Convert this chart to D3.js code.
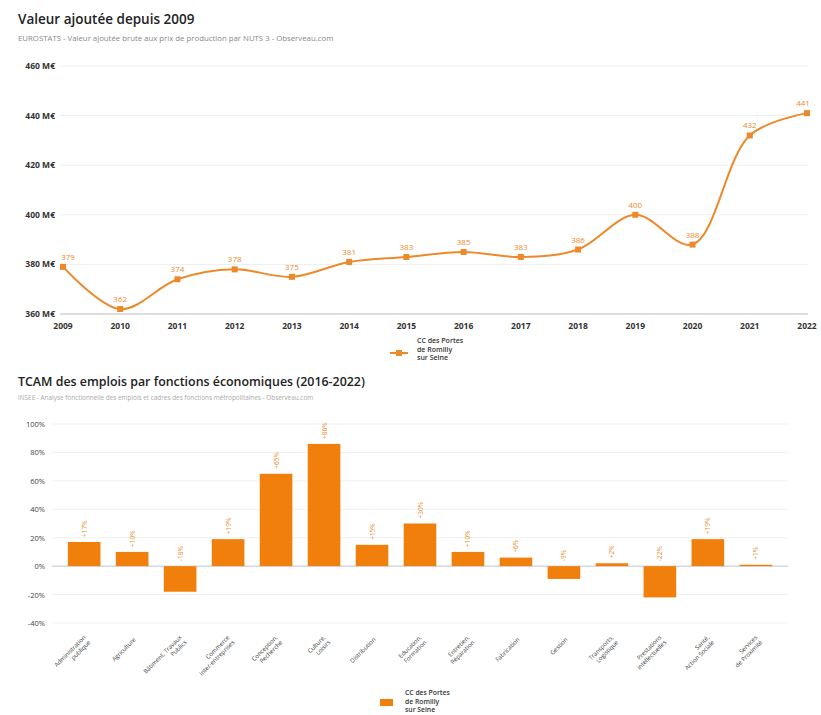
<!DOCTYPE html>
<html>
<head>
<meta charset="utf-8">
<script src="https://cdn.jsdelivr.net/npm/d3@7"></script>
<style>
body { margin: 0; background: #fff; font-family: "Open Sans", sans-serif; }
</style>
</head>
<body>
<div id="chart"></div>
<script>
// valeur ajoutee (M€)
var years = [2009, 2010, 2011, 2012, 2013, 2014, 2015, 2016, 2017, 2018, 2019, 2020, 2021, 2022];
var valeurs = [379, 362, 374, 378, 375, 381, 383, 385, 383, 386, 400, 388, 432, 441];
var yTicks1 = [360, 380, 400, 420, 440, 460];

// TCAM par fonctions
var fonctions = [
  ["Administration", "publique"], ["Agriculture"], ["Bâtiment, Travaux", "Publics"],
  ["Commerce", "inter-entreprises"], ["Conception,", "Recherche"], ["Culture,", "Loisirs"],
  ["Distribution"], ["Education,", "Formation"], ["Entretien,", "Réparation"],
  ["Fabrication"], ["Gestion"], ["Transports,", "Logistique"],
  ["Prestations", "intellectuelles"], ["Santé,", "Action Sociale"], ["Services", "de Proximité"]
];
var tcam = [17, 10, -18, 19, 65, 86, 15, 30, 10, 6, -9, 2, -22, 19, 1];
var yTicks2 = [-40, -20, 0, 20, 40, 60, 80, 100];

var serie = ["CC des Portes", "de Romilly", "sur Seine"];

var W = 821, H = 715;
var orange = "#ec8a2b", barColor = "#f07f0c";

var svg = d3.select("#chart").append("svg")
  .attr("width", W).attr("height", H);

// ---- chart 1
svg.append("text").attr("x", 18).attr("y", 24)
  .attr("font-size", 13.5).attr("font-weight", 600).attr("fill", "#222")
  .text("Valeur ajoutée depuis 2009");
svg.append("text").attr("x", 18).attr("y", 41)
  .attr("font-size", 7.8).attr("fill", "#888")
  .text("EUROSTATS - Valeur ajoutée brute aux prix de production par NUTS 3 - Observeau.com");

var x1 = d3.scalePoint().domain(years).range([63, 807]);
var y1 = d3.scaleLinear().domain([360, 460]).range([314, 66]);

var g1 = svg.append("g");
g1.selectAll(".grid1").data(yTicks1).enter().append("line")
  .attr("x1", 60).attr("x2", 808)
  .attr("y1", function(d) { return y1(d); }).attr("y2", function(d) { return y1(d); })
  .attr("stroke", function(d) { return d == 360 ? "#bbb" : "#eee"; });
g1.selectAll(".ylab1").data(yTicks1).enter().append("text")
  .attr("x", 55).attr("y", function(d) { return y1(d) + 3; })
  .attr("text-anchor", "end").attr("font-size", 8.5).attr("font-weight", 700).attr("fill", "#333")
  .text(function(d) { return d + " M€"; });
g1.selectAll(".xlab1").data(years).enter().append("text")
  .attr("x", function(d) { return x1(d); }).attr("y", 329)
  .attr("text-anchor", "middle").attr("font-size", 8.5).attr("font-weight", 700).attr("fill", "#333")
  .text(function(d) { return d; });

var line = d3.line()
  .x(function(d, i) { return x1(years[i]); })
  .y(function(d) { return y1(d); })
  .curve(d3.curveCatmullRom.alpha(0.5));
g1.append("path").datum(valeurs).attr("d", line)
  .attr("fill", "none").attr("stroke", "#fff").attr("stroke-width", 4);
g1.append("path").datum(valeurs).attr("d", line)
  .attr("fill", "none").attr("stroke", orange).attr("stroke-width", 2);
g1.selectAll(".pt").data(valeurs).enter().append("rect")
  .attr("x", function(d, i) { return x1(years[i]) - 3; })
  .attr("y", function(d) { return y1(d) - 3; })
  .attr("width", 6).attr("height", 6).attr("fill", orange);
g1.selectAll(".vlab").data(valeurs).enter().append("text")
  .attr("x", function(d, i) { return x1(years[i]) + (i == 0 ? 5 : i == 13 ? -4 : 0); })
  .attr("y", function(d) { return y1(d) - 7; })
  .attr("text-anchor", "middle").attr("font-size", 8).attr("fill", orange)
  .text(function(d) { return d; });

// legende 1
var l1 = svg.append("g").attr("transform", "translate(390,353)");
l1.append("line").attr("x1", 0).attr("x2", 18).attr("stroke", orange).attr("stroke-width", 2);
l1.append("rect").attr("x", 6).attr("y", -3).attr("width", 6).attr("height", 6).attr("fill", orange);
l1.selectAll("text").data(serie).enter().append("text")
  .attr("x", 27).attr("y", function(d, i) { return -10 + i * 8.5; })
  .attr("font-size", 7).attr("font-weight", 600).attr("fill", "#333")
  .text(function(d) { return d; });

// ---- chart 2
svg.append("text").attr("x", 18).attr("y", 386)
  .attr("font-size", 12.4).attr("font-weight", 600).attr("fill", "#222")
  .text("TCAM des emplois par fonctions économiques (2016-2022)");
svg.append("text").attr("x", 18).attr("y", 400)
  .attr("font-size", 6.4).attr("fill", "#aaa")
  .text("INSEE - Analyse fonctionnelle des emplois et cadres des fonctions métropolitaines - Observeau.com");

var x2 = d3.scaleBand().domain(d3.range(fonctions.length)).range([52.5, 787.5]).padding(0.32);
var y2 = d3.scaleLinear().domain([-40, 100]).range([623, 424]);

var g2 = svg.append("g");
g2.selectAll(".grid2").data(yTicks2).enter().append("line")
  .attr("x1", 52).attr("x2", 788)
  .attr("y1", function(d) { return y2(d); }).attr("y2", function(d) { return y2(d); })
  .attr("stroke", function(d) { return d == 0 ? "#bcc6d6" : "#f0f0f0"; });
g2.selectAll(".ylab2").data(yTicks2).enter().append("text")
  .attr("x", 45).attr("y", function(d) { return y2(d) + 3; })
  .attr("text-anchor", "end").attr("font-size", 7.5).attr("fill", "#444")
  .text(function(d) { return d + "%"; });

g2.selectAll(".bar").data(tcam).enter().append("rect")
  .attr("x", function(d, i) { return x2(i); })
  .attr("y", function(d) { return y2(Math.max(0, d)); })
  .attr("width", x2.bandwidth())
  .attr("height", function(d) { return Math.abs(y2(d) - y2(0)); })
  .attr("fill", barColor);

g2.selectAll(".blab").data(tcam).enter().append("text")
  .attr("transform", function(d, i) {
    return "translate(" + (x2(i) + x2.bandwidth() / 2 + 2.5) + "," + (y2(Math.max(0, d)) - 5) + ") rotate(-90)";
  })
  .attr("font-size", 6.5).attr("fill", orange)
  .text(function(d) { return (d > 0 ? "+" : "") + d + "%"; });

g2.selectAll(".xlab2").data(fonctions).enter().append("text")
  .attr("transform", function(d, i) {
    return "translate(" + (x2(i) + x2.bandwidth() / 2 + 4) + ",640) rotate(-45)";
  })
  .attr("text-anchor", "end").attr("font-size", 6).attr("fill", "#444")
  .each(function(d) {
    var t = d3.select(this);
    d.forEach(function(s, k) {
      t.append("tspan").attr("x", 0).attr("dy", k == 0 ? (d.length > 1 ? -3 : 0) : 7).text(s);
    });
  });

// legende 2
var l2 = svg.append("g").attr("transform", "translate(380,699)");
l2.append("rect").attr("x", 0).attr("y", 0).attr("width", 13).attr("height", 7).attr("fill", barColor);
l2.selectAll("text").data(serie).enter().append("text")
  .attr("x", 25).attr("y", function(d, i) { return -4 + i * 8.5; })
  .attr("font-size", 6.8).attr("font-weight", 600).attr("fill", "#333")
  .text(function(d) { return d; });
</script>
</body>
</html>
